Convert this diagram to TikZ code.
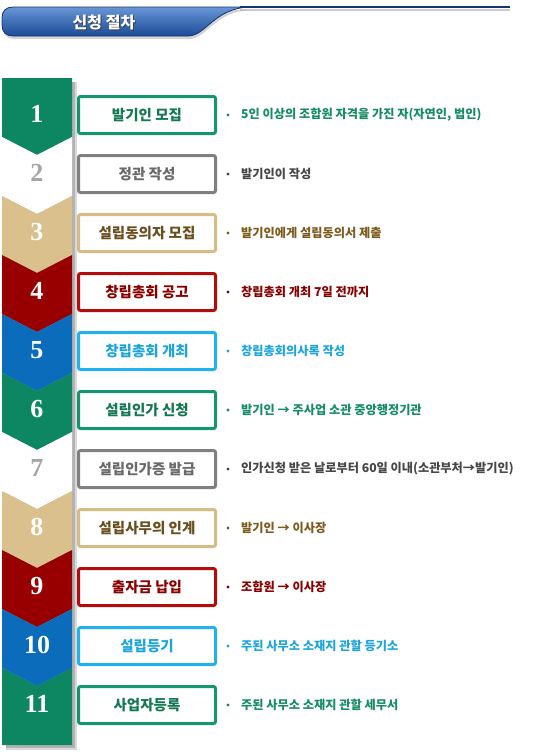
\documentclass[tikz,border=0pt]{standalone}
\usepackage{fontspec}
\newfontfamily\krfont{Noto Sans CJK KR}
\newfontfamily\numfont{Liberation Serif}
\usetikzlibrary{shadows}

\definecolor{bannertop}{RGB}{104,150,214}
\definecolor{bannerbot}{RGB}{28,74,150}
\definecolor{bannerline}{RGB}{22,52,112}
\definecolor{stepgreen}{RGB}{13,135,98}
\definecolor{steptan}{RGB}{218,192,140}
\definecolor{stepred}{RGB}{152,0,0}
\definecolor{stepblue}{RGB}{12,108,188}
\definecolor{boxgreen}{RGB}{22,150,112}
\definecolor{boxgray}{RGB}{128,128,128}
\definecolor{boxtan}{RGB}{214,188,132}
\definecolor{boxred}{RGB}{178,12,12}
\definecolor{boxcyan}{RGB}{32,178,232}
\definecolor{txtgreen}{RGB}{20,120,82}
\definecolor{txtgray}{RGB}{105,105,105}
\definecolor{txtbrown}{RGB}{105,78,28}
\definecolor{txtred}{RGB}{140,0,0}
\definecolor{txtcyan}{RGB}{28,165,220}
\definecolor{notegreen}{RGB}{22,140,100}
\definecolor{notegray}{RGB}{70,70,70}
\definecolor{notebrown}{RGB}{125,90,30}
\definecolor{notered}{RGB}{135,0,0}
\definecolor{numgray}{RGB}{165,165,165}

\tikzset{
  stepbox/.style={draw=#1, line width=3pt, rounded corners=2pt, fill=white,
    minimum width=137pt, minimum height=37pt, inner sep=0pt,
    font=\krfont\bfseries\fontsize{14.5}{16}\selectfont},
  stepnum/.style={inner sep=0pt, text=white, font=\numfont\bfseries\fontsize{26}{26}\selectfont},
  stepnote/.style={anchor=west, inner sep=0pt, font=\krfont\bfseries\fontsize{12.2}{14}\selectfont},
}

\begin{document}
\begin{tikzpicture}[x=1pt, y=-1pt]
  \useasboundingbox (0,0) rectangle (547,756);

  \newcommand\Y{59}
  \newcommand\Chev[2]{\fill[#1] (2,#2) -- (37,#2+18) -- (72,#2) -- (72,#2+\Y) -- (37,#2+\Y+18) -- (2,#2+\Y) -- cycle;}

  %% title banner
  \draw[black!20, line width=2pt] (240,9.5) -- (510,9.5);
  \draw[bannerline, line width=2pt] (240,7) -- (510,7);
  \path[draw=bannerline, line width=0.8pt, top color=bannertop, bottom color=bannerbot,
    drop shadow={shadow xshift=1pt, shadow yshift=-3pt, opacity=0.35}]
    (13,7) .. controls (6,7) and (2,11) .. (2,18) -- (2,25) .. controls (2,32) and (6,36) .. (13,36)
    -- (188,36) .. controls (206,36) and (214,8) .. (250,7) -- cycle;
  \node[text=black!75, font=\krfont\bfseries\fontsize{16}{16}\selectfont] at (105,23) {신청 절차};
  \node[text=white, font=\krfont\bfseries\fontsize{16}{16}\selectfont] (title) at (104,22) {신청 절차};

  %% column shadow
  \fill[black!15] (6,82) rectangle (77,750);
  \fill[black!30] (6,82) rectangle (75,748);

  %% chevrons
  \fill[stepgreen] (2,78) -- (72,78) -- (72,137) -- (37,155) -- (2,137) -- cycle;
  \Chev{white}{137+0*\Y}
  \Chev{steptan}{137+1*\Y}
  \Chev{stepred}{137+2*\Y}
  \Chev{stepblue}{137+3*\Y}
  \Chev{stepgreen}{137+4*\Y}
  \Chev{white}{137+5*\Y}
  \Chev{steptan}{137+6*\Y}
  \Chev{stepred}{137+7*\Y}
  \Chev{stepblue}{137+8*\Y}
  \fill[stepgreen] (2,137+9*\Y) -- (37,137+9*\Y+18) -- (72,137+9*\Y) -- (72,745) -- (2,745) -- cycle;

  %% step numbers
  \node[stepnum] (n1) at (37,114+0*\Y) {1};
  \node[stepnum, text=numgray] (n2) at (37,114+1*\Y) {2};
  \node[stepnum] (n3) at (37,114+2*\Y) {3};
  \node[stepnum] (n4) at (37,114+3*\Y) {4};
  \node[stepnum] (n5) at (37,114+4*\Y) {5};
  \node[stepnum] (n6) at (37,114+5*\Y) {6};
  \node[stepnum, text=numgray] (n7) at (37,114+6*\Y) {7};
  \node[stepnum] (n8) at (37,114+7*\Y) {8};
  \node[stepnum] (n9) at (37,114+8*\Y) {9};
  \node[stepnum] (n10) at (37,114+9*\Y) {10};
  \node[stepnum] (n11) at (37,114+10*\Y) {11};

  %% step boxes
  \node[stepbox=boxgreen, text=txtgreen] (b1) at (147,115+0*\Y) {발기인 모집};
  \node[stepbox=boxgray, text=txtgray] (b2) at (147,115+1*\Y) {정관 작성};
  \node[stepbox=boxtan, text=txtbrown] (b3) at (147,115+2*\Y) {설립동의자 모집};
  \node[stepbox=boxred, text=txtred] (b4) at (147,115+3*\Y) {창립총회 공고};
  \node[stepbox=boxcyan, text=txtcyan] (b5) at (147,115+4*\Y) {창립총회 개최};
  \node[stepbox=boxgreen, text=txtgreen] (b6) at (147,115+5*\Y) {설립인가 신청};
  \node[stepbox=boxgray, text=txtgray] (b7) at (147,115+6*\Y) {설립인가증 발급};
  \node[stepbox=boxtan, text=txtbrown] (b8) at (147,115+7*\Y) {설립사무의 인계};
  \node[stepbox=boxred, text=txtred] (b9) at (147,115+8*\Y) {출자금 납입};
  \node[stepbox=boxcyan, text=txtcyan] (b10) at (147,115+9*\Y) {설립등기};
  \node[stepbox=boxgreen, text=txtgreen] (b11) at (147,115+10*\Y) {사업자등록};

  %% notes
  \fill[notegreen] (228,115+0*\Y) circle (1.6); \node[stepnote, text=notegreen] (d1) at (241,115+0*\Y) {5인 이상의 조합원 자격을 가진 자(자연인, 법인)};
  \fill[notegray] (228,115+1*\Y) circle (1.6); \node[stepnote, text=notegray] (d2) at (241,115+1*\Y) {발기인이 작성};
  \fill[notebrown] (228,115+2*\Y) circle (1.6); \node[stepnote, text=notebrown] (d3) at (241,115+2*\Y) {발기인에게 설립동의서 제출};
  \fill[notered] (228,115+3*\Y) circle (1.6); \node[stepnote, text=notered] (d4) at (241,115+3*\Y) {창립총회 개최 7일 전까지};
  \fill[txtcyan] (228,115+4*\Y) circle (1.6); \node[stepnote, text=txtcyan] (d5) at (241,115+4*\Y) {창립총회의사록 작성};
  \fill[notegreen] (228,115+5*\Y) circle (1.6); \node[stepnote, text=notegreen] (d6) at (241,115+5*\Y) {발기인 → 주사업 소관 중앙행정기관};
  \fill[notegray] (228,115+6*\Y) circle (1.6); \node[stepnote, text=notegray] (d7) at (241,115+6*\Y) {인가신청 받은 날로부터 60일 이내(소관부처→발기인)};
  \fill[notebrown] (228,115+7*\Y) circle (1.6); \node[stepnote, text=notebrown] (d8) at (241,115+7*\Y) {발기인 → 이사장};
  \fill[notered] (228,115+8*\Y) circle (1.6); \node[stepnote, text=notered] (d9) at (241,115+8*\Y) {조합원 → 이사장};
  \fill[txtcyan] (228,115+9*\Y) circle (1.6); \node[stepnote, text=txtcyan] (d10) at (241,115+9*\Y) {주된 사무소 소재지 관할 등기소};
  \fill[notegreen] (228,115+10*\Y) circle (1.6); \node[stepnote, text=notegreen] (d11) at (241,115+10*\Y) {주된 사무소 소재지 관할 세무서};

\end{tikzpicture}
\end{document}
